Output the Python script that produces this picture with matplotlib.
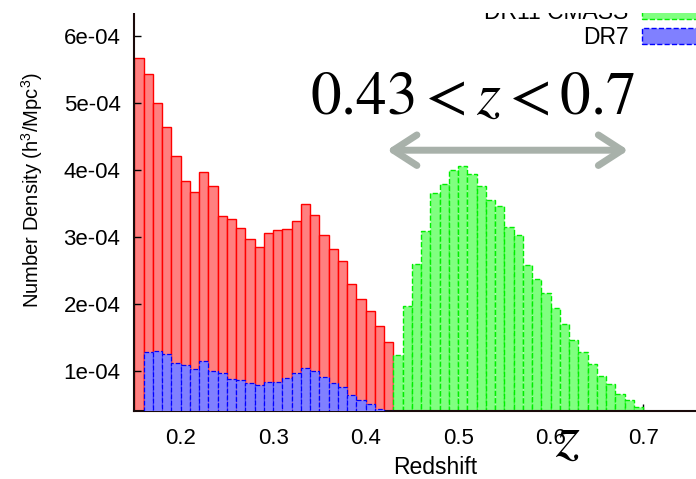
import numpy as np
import matplotlib
matplotlib.use('Agg')
import matplotlib.pyplot as plt
from matplotlib.patches import Patch, Rectangle
from matplotlib.ticker import FuncFormatter

plt.rcParams['font.family'] = ['Liberation Sans', 'DejaVu Sans']
plt.rcParams['mathtext.fontset'] = 'stix'

# number density per dz = 0.01 bin (units of 1e-4 h^3/Mpc^3)
lowz_start = 0.15
lowz = [5.68, 5.44, 5.00, 4.64, 4.22, 3.84, 3.67, 3.97, 3.76, 3.32,
        3.28, 3.14, 2.98, 2.85, 3.07, 3.11, 3.12, 3.25, 3.49, 3.34,
        3.03, 2.83, 2.65, 2.31, 2.08, 1.90, 1.68, 1.43]

cmass_start = 0.43
cmass = [1.24, 1.97, 2.60, 3.10, 3.66, 3.80, 4.00, 4.07, 3.94, 3.77,
         3.56, 3.46, 3.15, 3.04, 2.58, 2.37, 2.17, 1.94, 1.71, 1.46,
         1.29, 1.11, 0.93, 0.81, 0.66, 0.57, 0.47]

dr7_start = 0.16
dr7 = [1.29, 1.31, 1.26, 1.12, 1.09, 1.04, 1.15, 1.01, 0.97, 0.88,
       0.87, 0.82, 0.79, 0.84, 0.84, 0.90, 0.97, 1.05, 1.00, 0.91,
       0.83, 0.76, 0.64, 0.57, 0.51, 0.44, 0.41]

dz = 0.01
xticks = [0.2, 0.3, 0.4, 0.5, 0.6, 0.7]
yticks = [1e-4, 2e-4, 3e-4, 4e-4, 5e-4, 6e-4]


def edges(start, vals):
    return np.round(start + dz * np.arange(len(vals)), 3)


fig = plt.figure(figsize=(6.96, 4.79), dpi=100)
ax = fig.add_axes([0.193, 0.141, 0.864, 0.923])

ax.bar(edges(lowz_start, lowz), np.array(lowz) * 1e-4, width=dz, align='edge',
       facecolor='#ff8080', edgecolor='#ff0000', linewidth=1.0, zorder=1)
ax.bar(edges(cmass_start, cmass), np.array(cmass) * 1e-4, width=dz, align='edge',
       facecolor='#80ff80', edgecolor='#00ee00', linewidth=1.0, linestyle='--', zorder=2)
ax.bar(edges(dr7_start, dr7), np.array(dr7) * 1e-4, width=dz, align='edge',
       facecolor='#8080ff', edgecolor='#0000ff', linewidth=0.9, linestyle='--', zorder=3)

ax.set_xlim(0.15, 0.8)
ax.set_ylim(0.4e-4, 7e-4)
ax.set_xticks(xticks)
ax.set_yticks(yticks)
ax.xaxis.set_major_formatter(FuncFormatter(lambda v, p: '%.1f' % v))
ax.yaxis.set_major_formatter(FuncFormatter(lambda v, p: '%.0e' % v))
ax.tick_params(direction='in', length=5, width=1, labelsize=16, pad=10)
ax.tick_params(axis='x', pad=12)
for s in ax.spines.values():
    s.set_linewidth(1.5)
    s.set_color('#1a0a0a')

ax.set_xlabel('Redshift', fontsize=16.5, labelpad=5)
ax.set_ylabel(r'Number Density (h$\mathregular{^3}$/Mpc$\mathregular{^3}$)',
              fontsize=14.5, labelpad=13)

# redshift window annotation
ax.text(0.516, 4.85e-4, r'$0.43 < z < 0.7$', fontsize=44, ha='center',
        va='baseline', zorder=5)
ax.annotate('', xy=(0.423, 4.30e-4), xytext=(0.684, 4.30e-4),
            arrowprops=dict(arrowstyle='<->,head_length=0.85,head_width=0.55',
                            color='#a8b1aa', lw=5, mutation_scale=20,
                            capstyle='round', joinstyle='round',
                            shrinkA=0, shrinkB=0), zorder=5)
fig.text(0.815, 0.048, r'$z$', fontsize=44, ha='center', va='baseline')

handles = [Patch(facecolor='#80ff80', edgecolor='#00ee00', linestyle='--'),
           Patch(facecolor='#8080ff', edgecolor='#0000ff', linestyle='--')]
fig.legend(handles, ['DR11 CMASS', 'DR7'], loc='upper right',
           bbox_to_anchor=(1.0216, 0.997), frameon=False, markerfirst=False,
           fontsize=16.5, handlelength=3.0, handletextpad=0.61,
           labelspacing=0.07, borderpad=0, borderaxespad=0)

# top strip of the slide crop
fig.patches.append(Rectangle((0, 1 - 13 / 479), 1, 13 / 479, transform=fig.transFigure,
                             facecolor='white', edgecolor='none', zorder=10))

fig.savefig('out.png', dpi=100)
plt.close(fig)
